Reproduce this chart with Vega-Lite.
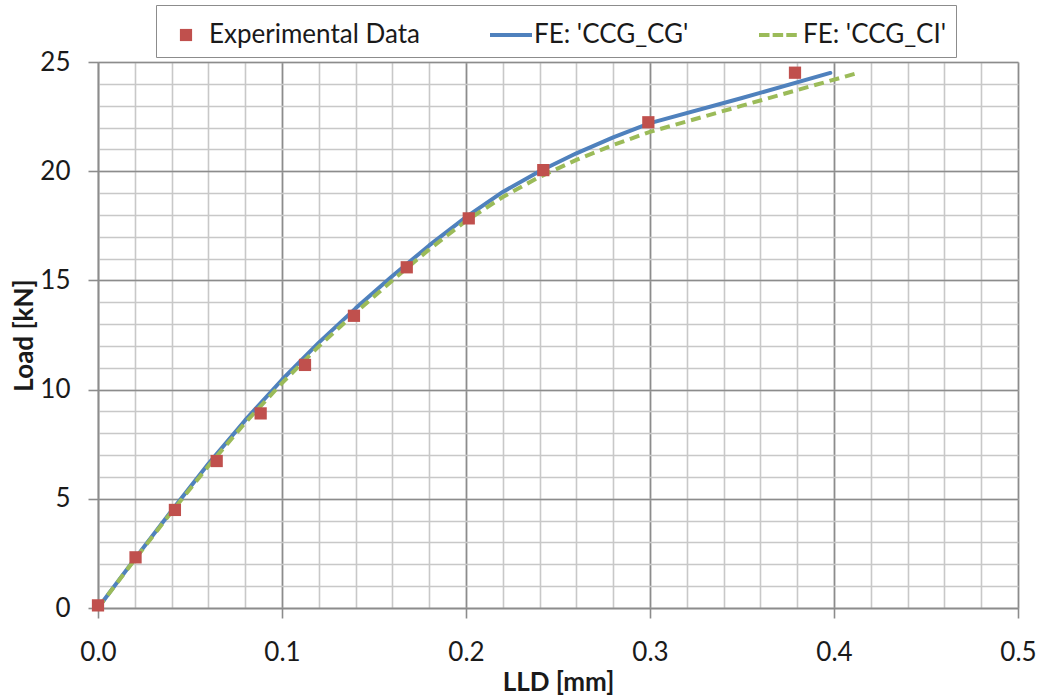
{
  "$schema": "https://vega.github.io/schema/vega-lite/v6.json",
  "width": 920,
  "height": 546,
  "autosize": "none",
  "padding": {"left": 98, "top": 62, "right": 24, "bottom": 91},
  "background": "white",
  "config": {"view": {"stroke": null}, "font": "Lato"},
  "datasets": {
    "exp": [
      {"series": "Experimental Data", "lld": 0.0, "load": 0.12},
      {"series": "Experimental Data", "lld": 0.0204, "load": 2.32},
      {"series": "Experimental Data", "lld": 0.0418, "load": 4.49},
      {"series": "Experimental Data", "lld": 0.0645, "load": 6.73},
      {"series": "Experimental Data", "lld": 0.0884, "load": 8.91},
      {"series": "Experimental Data", "lld": 0.1125, "load": 11.13},
      {"series": "Experimental Data", "lld": 0.1391, "load": 13.38},
      {"series": "Experimental Data", "lld": 0.1678, "load": 15.6},
      {"series": "Experimental Data", "lld": 0.2015, "load": 17.84},
      {"series": "Experimental Data", "lld": 0.242, "load": 20.05},
      {"series": "Experimental Data", "lld": 0.2991, "load": 22.24},
      {"series": "Experimental Data", "lld": 0.3788, "load": 24.51}
    ],
    "cg": [
      {"series": "FE: 'CCG_CG'", "lld": 0.0, "load": 0.0},
      {"series": "FE: 'CCG_CG'", "lld": 0.02, "load": 2.25},
      {"series": "FE: 'CCG_CG'", "lld": 0.04, "load": 4.45},
      {"series": "FE: 'CCG_CG'", "lld": 0.06, "load": 6.6},
      {"series": "FE: 'CCG_CG'", "lld": 0.08, "load": 8.6},
      {"series": "FE: 'CCG_CG'", "lld": 0.1, "load": 10.45},
      {"series": "FE: 'CCG_CG'", "lld": 0.12, "load": 12.15},
      {"series": "FE: 'CCG_CG'", "lld": 0.14, "load": 13.72},
      {"series": "FE: 'CCG_CG'", "lld": 0.16, "load": 15.2},
      {"series": "FE: 'CCG_CG'", "lld": 0.18, "load": 16.6},
      {"series": "FE: 'CCG_CG'", "lld": 0.2, "load": 17.9},
      {"series": "FE: 'CCG_CG'", "lld": 0.22, "load": 19.05},
      {"series": "FE: 'CCG_CG'", "lld": 0.24, "load": 20.0},
      {"series": "FE: 'CCG_CG'", "lld": 0.26, "load": 20.82},
      {"series": "FE: 'CCG_CG'", "lld": 0.28, "load": 21.55},
      {"series": "FE: 'CCG_CG'", "lld": 0.3, "load": 22.2},
      {"series": "FE: 'CCG_CG'", "lld": 0.35, "load": 23.35},
      {"series": "FE: 'CCG_CG'", "lld": 0.398, "load": 24.5}
    ],
    "ci": [
      {"series": "FE: 'CCG_CI'", "lld": 0.0, "load": 0.0},
      {"series": "FE: 'CCG_CI'", "lld": 0.02, "load": 2.22},
      {"series": "FE: 'CCG_CI'", "lld": 0.04, "load": 4.4},
      {"series": "FE: 'CCG_CI'", "lld": 0.06, "load": 6.5},
      {"series": "FE: 'CCG_CI'", "lld": 0.08, "load": 8.48},
      {"series": "FE: 'CCG_CI'", "lld": 0.1, "load": 10.3},
      {"series": "FE: 'CCG_CI'", "lld": 0.12, "load": 11.98},
      {"series": "FE: 'CCG_CI'", "lld": 0.14, "load": 13.52},
      {"series": "FE: 'CCG_CI'", "lld": 0.16, "load": 15.0},
      {"series": "FE: 'CCG_CI'", "lld": 0.18, "load": 16.42},
      {"series": "FE: 'CCG_CI'", "lld": 0.2, "load": 17.72},
      {"series": "FE: 'CCG_CI'", "lld": 0.22, "load": 18.82},
      {"series": "FE: 'CCG_CI'", "lld": 0.24, "load": 19.74},
      {"series": "FE: 'CCG_CI'", "lld": 0.26, "load": 20.52},
      {"series": "FE: 'CCG_CI'", "lld": 0.28, "load": 21.2},
      {"series": "FE: 'CCG_CI'", "lld": 0.3, "load": 21.8},
      {"series": "FE: 'CCG_CI'", "lld": 0.35, "load": 23.0},
      {"series": "FE: 'CCG_CI'", "lld": 0.413, "load": 24.5}
    ]
  },
  "resolve": {"axis": {"x": "independent", "y": "independent"}},
  "layer": [
    {
      "data": {"name": "cg"},
      "mark": {"type": "line", "strokeWidth": 4, "strokeCap": "round", "strokeJoin": "round"},
      "encoding": {
        "x": {"field": "lld", "type": "quantitative", "scale": {"domain": [0, 0.5], "nice": false, "zero": false},
          "axis": {"orient": "bottom", "values": [0,0.02,0.04,0.06,0.08,0.1,0.12,0.14,0.16,0.18,0.2,0.22,0.24,0.26,0.28,0.3,0.32,0.34,0.36,0.38,0.4,0.42,0.44,0.46,0.48,0.5],
            "grid": true, "gridColor": "#c8c8c8", "gridWidth": 1.6, "labels": false, "ticks": false, "domain": false, "title": null}},
        "y": {"field": "load", "type": "quantitative", "scale": {"domain": [0, 25], "nice": false},
          "axis": {"orient": "left", "values": [0,1,2,3,4,5,6,7,8,9,10,11,12,13,14,15,16,17,18,19,20,21,22,23,24,25],
            "grid": true, "gridColor": "#c8c8c8", "gridWidth": 1.6, "labels": false, "ticks": false, "domain": false, "title": null}},
        "color": {"field": "series", "type": "nominal",
          "scale": {"domain": ["Experimental Data", "FE: 'CCG_CG'", "FE: 'CCG_CI'"], "range": ["#C0504D", "#4F81BD", "#9BBB59"]},
          "legend": {
            "orient": "none", "legendX": 58, "legendY": -57, "direction": "horizontal", "columns": 3,
            "title": null, "padding": 9, "strokeColor": "#8c8c8c", "fillColor": "white",
            "labelFont": "Lato", "labelFontSize": 26, "labelColor": "#1a1a1a", "labelOffset": 2, "labelLimit": 400,
            "columnPadding": 70, "symbolSize": 1764, "symbolStrokeWidth": 0,
            "encode": {"symbols": {"update": {
              "shape": {"signal": "datum.index == 0 ? 'M-0.29,-0.29H0.29V0.29H-0.29Z' : datum.index == 1 ? 'M-1,-0.09H1V0.09H-1Z' : 'M-1,-0.09H-0.5V0.09H-1Z M-0.35,-0.09H0.15V0.09H-0.35Z M0.3,-0.09H0.8V0.09H0.3Z'"},
              "fill": {"scale": "color", "field": "value"},
              "stroke": {"value": "transparent"},
              "opacity": {"value": 1}
            }}}
          }}
      }
    },
    {
      "data": {"name": "ci"},
      "mark": {"type": "line", "strokeWidth": 4, "strokeDash": [10, 6], "strokeCap": "butt"},
      "encoding": {
        "x": {"field": "lld", "type": "quantitative", "axis": null},
        "y": {"field": "load", "type": "quantitative", "axis": null},
        "color": {"field": "series", "type": "nominal"}
      }
    },
    {
      "data": {"name": "exp"},
      "mark": {"type": "point", "shape": "square", "filled": true, "size": 150, "opacity": 1},
      "encoding": {
        "x": {"field": "lld", "type": "quantitative",
          "axis": {"orient": "bottom", "values": [0, 0.1, 0.2, 0.3, 0.4, 0.5], "format": ".1f", "labelFlush": false,
            "grid": true, "gridColor": "#8c8c8c", "gridWidth": 1.6,
            "domain": true, "domainColor": "#8c8c8c", "domainWidth": 1.6,
            "ticks": true, "tickColor": "#8c8c8c", "tickWidth": 1.6, "tickSize": 10,
            "labelFont": "Lato", "labelFontSize": 26, "labelColor": "#1a1a1a", "labelPadding": 21,
            "title": "LLD [mm]", "titleFont": "Lato", "titleFontSize": 26, "titleFontWeight": "bold", "titleColor": "#1a1a1a", "titlePadding": 4}},
        "y": {"field": "load", "type": "quantitative",
          "axis": {"orient": "left", "values": [0, 5, 10, 15, 20, 25], "labelFlush": false,
            "grid": true, "gridColor": "#8c8c8c", "gridWidth": 1.6,
            "domain": true, "domainColor": "#8c8c8c", "domainWidth": 1.6,
            "ticks": true, "tickColor": "#8c8c8c", "tickWidth": 1.6, "tickSize": 10,
            "labelFont": "Lato", "labelFontSize": 26, "labelColor": "#1a1a1a", "labelPadding": 18,
            "title": "Load [kN]", "titleFont": "Lato", "titleFontSize": 26, "titleFontWeight": "bold", "titleColor": "#1a1a1a", "titlePadding": 2}},
        "color": {"field": "series", "type": "nominal"}
      }
    }
  ]
}
